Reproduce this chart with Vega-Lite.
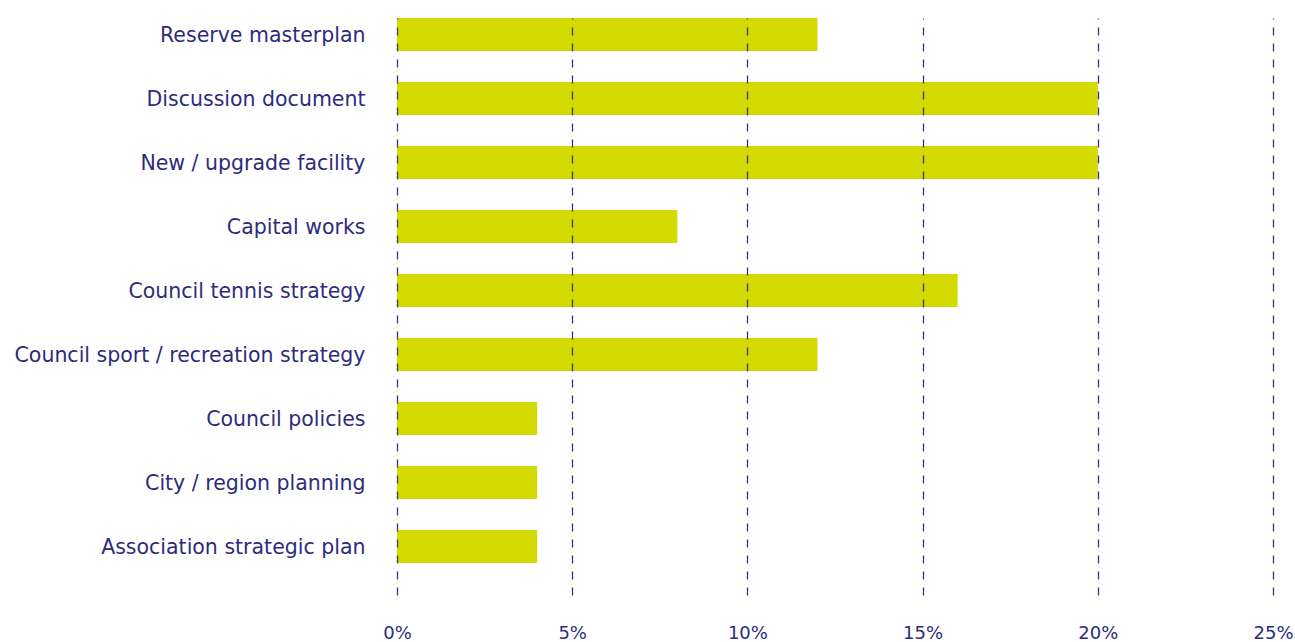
{
  "$schema": "https://vega.github.io/schema/vega-lite/v6.json",
  "width": 876,
  "height": 577,
  "autosize": {"type": "none"},
  "padding": {"left": 397, "top": 18, "right": 22, "bottom": 47},
  "background": "white",
  "config": {
    "view": {"stroke": null},
    "font": "DejaVu Sans"
  },
  "data": {
    "values": [
      {"category": "Reserve masterplan", "pct": 12},
      {"category": "Discussion document", "pct": 20},
      {"category": "New / upgrade facility", "pct": 20},
      {"category": "Capital works", "pct": 8},
      {"category": "Council tennis strategy", "pct": 16},
      {"category": "Council sport / recreation strategy", "pct": 12},
      {"category": "Council policies", "pct": 4},
      {"category": "City / region planning", "pct": 4},
      {"category": "Association strategic plan", "pct": 4}
    ]
  },
  "mark": {"type": "bar", "color": "#d4d900"},
  "encoding": {
    "y": {
      "field": "category",
      "type": "nominal",
      "sort": null,
      "scale": {"paddingInner": 0.484, "paddingOuter": 0.25, "align": 0},
      "axis": {
        "title": null,
        "domain": false,
        "ticks": false,
        "labelPadding": 32,
        "labelOffset": 1.5,
        "labelFontSize": 20.5,
        "labelColor": "#2d2c7c",
        "labelFont": "DejaVu Sans",
        "labelLimit": 400
      }
    },
    "x": {
      "field": "pct",
      "type": "quantitative",
      "scale": {"domain": [0, 25], "nice": false},
      "axis": {
        "title": null,
        "values": [0, 5, 10, 15, 20, 25],
        "labelExpr": "datum.value + '%'",
        "labelFlush": false,
        "domain": false,
        "ticks": false,
        "labelPadding": 29,
        "labelFontSize": 18,
        "labelColor": "#2d2c7c",
        "labelFont": "DejaVu Sans",
        "grid": true,
        "gridColor": "#2d2c7c",
        "gridDash": [8, 8],
        "gridWidth": 1.3,
        "gridOpacity": 0.95,
        "zindex": 1
      }
    }
  }
}
